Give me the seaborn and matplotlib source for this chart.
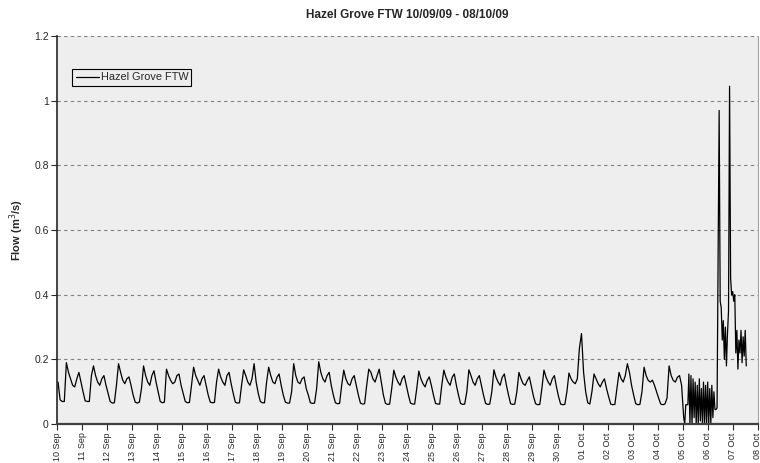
import numpy as np
import pandas as pd
import matplotlib
matplotlib.use('Agg')
import matplotlib.pyplot as plt
import matplotlib.dates as mdates
import seaborn as sns

sns.set_style('ticks')
plt.rcParams['font.family'] = ['Liberation Sans', 'DejaVu Sans']

# two-hourly readings at 01:00, 03:00 ... 23:00 (m3/s), one row per day
flow_sep10_16 = [
    0.13, 0.075, 0.07, 0.07, 0.19, 0.16, 0.14, 0.12, 0.115, 0.14, 0.16, 0.13,
    0.10, 0.072, 0.07, 0.07, 0.15, 0.18, 0.15, 0.13, 0.12, 0.14, 0.15, 0.12,
    0.095, 0.07, 0.065, 0.066, 0.12, 0.187, 0.16, 0.136, 0.125, 0.14, 0.146, 0.12,
    0.09, 0.068, 0.065, 0.068, 0.11, 0.18, 0.15, 0.13, 0.12, 0.15, 0.165, 0.13,
    0.10, 0.07, 0.066, 0.068, 0.17, 0.15, 0.135, 0.125, 0.13, 0.15, 0.155, 0.12,
    0.095, 0.07, 0.066, 0.067, 0.12, 0.176, 0.15, 0.135, 0.12, 0.14, 0.15, 0.12,
    0.09, 0.068, 0.066, 0.067, 0.13, 0.17, 0.145, 0.13, 0.12, 0.15, 0.16, 0.125,
]
flow_sep17_23 = [
    0.095, 0.068, 0.065, 0.066, 0.12, 0.168, 0.15, 0.13, 0.12, 0.14, 0.187, 0.13,
    0.095, 0.07, 0.066, 0.066, 0.13, 0.176, 0.15, 0.13, 0.125, 0.145, 0.155, 0.12,
    0.09, 0.068, 0.065, 0.065, 0.10, 0.187, 0.15, 0.13, 0.125, 0.14, 0.146, 0.11,
    0.09, 0.066, 0.064, 0.065, 0.11, 0.193, 0.16, 0.14, 0.13, 0.15, 0.16, 0.12,
    0.09, 0.066, 0.063, 0.064, 0.12, 0.167, 0.14, 0.125, 0.12, 0.14, 0.15, 0.12,
    0.09, 0.065, 0.062, 0.063, 0.12, 0.17, 0.16, 0.14, 0.13, 0.15, 0.17, 0.13,
    0.09, 0.064, 0.061, 0.062, 0.11, 0.167, 0.145, 0.13, 0.12, 0.14, 0.15, 0.12,
]
flow_sep24_30 = [
    0.09, 0.065, 0.062, 0.062, 0.11, 0.164, 0.14, 0.125, 0.115, 0.135, 0.146, 0.12,
    0.09, 0.064, 0.062, 0.062, 0.12, 0.167, 0.145, 0.13, 0.12, 0.145, 0.155, 0.12,
    0.09, 0.064, 0.061, 0.062, 0.10, 0.168, 0.15, 0.13, 0.12, 0.14, 0.15, 0.12,
    0.09, 0.064, 0.061, 0.062, 0.10, 0.168, 0.145, 0.13, 0.12, 0.145, 0.155, 0.12,
    0.09, 0.063, 0.061, 0.062, 0.10, 0.16, 0.14, 0.125, 0.12, 0.135, 0.146, 0.115,
    0.085, 0.063, 0.06, 0.061, 0.11, 0.167, 0.145, 0.13, 0.12, 0.14, 0.15, 0.115,
    0.085, 0.062, 0.06, 0.061, 0.10, 0.158, 0.14, 0.13, 0.125, 0.14, 0.235, 0.28,
]
flow_oct01_04 = [
    0.16, 0.10, 0.066, 0.062, 0.10, 0.155, 0.14, 0.125, 0.115, 0.13, 0.14, 0.11,
    0.085, 0.062, 0.06, 0.061, 0.11, 0.16, 0.14, 0.13, 0.15, 0.187, 0.16, 0.12,
    0.09, 0.063, 0.06, 0.061, 0.10, 0.176, 0.15, 0.135, 0.13, 0.136, 0.12, 0.10,
    0.08, 0.062, 0.06, 0.062, 0.08, 0.18, 0.15, 0.135, 0.13, 0.145, 0.15, 0.12,
]
# hourly readings from 05/10 01:00 (gauge dropping out) ...
flow_outage = [
    0.02, 0.0, 0.06, 0.06, 0.06, 0.155, 0.0, 0.15, 0.0, 0.14, 0.02, 0.13,
    0.0, 0.12, 0.0, 0.14, 0.01, 0.11, 0.0, 0.13, 0.0, 0.12, 0.0,
    0.13, 0.0, 0.11, 0.0, 0.12, 0.02,
]
# ... then from 06/10 06:00 (storm)
flow_storm = [
    0.10, 0.045, 0.045, 0.05, 0.50, 0.97, 0.38, 0.36, 0.26, 0.32, 0.20, 0.30,
    0.18, 0.28, 0.35, 1.045, 0.45, 0.40,
    0.41, 0.38, 0.40, 0.22, 0.29, 0.17, 0.26, 0.22, 0.29, 0.19, 0.27, 0.21,
    0.29, 0.18,
]

regular = flow_sep10_16 + flow_sep17_23 + flow_sep24_30 + flow_oct01_04
hourly = flow_outage + flow_storm
t_regular = pd.date_range('2009-09-10 01:00', periods=len(regular), freq='2h')
t_hourly = pd.date_range('2009-10-05 01:00', periods=len(hourly), freq='h')
df = pd.DataFrame({'time': t_regular.append(t_hourly), 'flow': regular + hourly})

fig, ax = plt.subplots(figsize=(7.6, 4.63), dpi=100)
fig.subplots_adjust(left=0.075, right=0.997, bottom=0.084, top=0.922)
ax.set_facecolor('#EEEEEE')

sns.lineplot(data=df, x='time', y='flow', ax=ax, color='k', lw=0.9,
             label='Hazel Grove FTW')

ax.set_xlim(pd.Timestamp('2009-09-10'), pd.Timestamp('2009-10-08'))
ax.xaxis.set_major_locator(mdates.DayLocator())
ax.xaxis.set_major_formatter(mdates.DateFormatter('%d %b'))
ax.tick_params(axis='x', labelrotation=90, labelsize=6.5, length=4, width=0.8, pad=2)

ax.set_ylim(0, 1.2)
ax.set_yticks([0, 0.2, 0.4, 0.6, 0.8, 1.0, 1.2], ['0', '0.2', '0.4', '0.6', '0.8', '1', '1.2'])
ax.tick_params(axis='y', labelsize=7.5, length=4, width=0.8, pad=2)
ax.yaxis.grid(True, linestyle=(0, (3, 3)), color='#808080', lw=0.8)

ax.spines['top'].set_visible(False)
ax.spines['right'].set_color('#a0a0a0')
ax.spines['left'].set_linewidth(1.2)
ax.spines['bottom'].set_linewidth(1.6)
ax.spines['bottom'].set_color('#404040')

ax.set_xlabel('')
ax.set_ylabel('Flow (m$^3$/s)', fontsize=8, fontweight='bold', labelpad=6)
ax.set_title('Hazel Grove FTW 10/09/09 - 08/10/09', fontsize=8.5, fontweight='bold', pad=13)

leg = ax.legend(loc='upper left', bbox_to_anchor=(0.022, 0.915), frameon=True, fancybox=False,
                edgecolor='k', facecolor='#EEEEEE', framealpha=1, fontsize=7.8,
                handlelength=2.2, borderpad=0.3, handletextpad=0.1, borderaxespad=0)
leg.get_frame().set_linewidth(0.8)

fig.savefig('out.png', dpi=100)
